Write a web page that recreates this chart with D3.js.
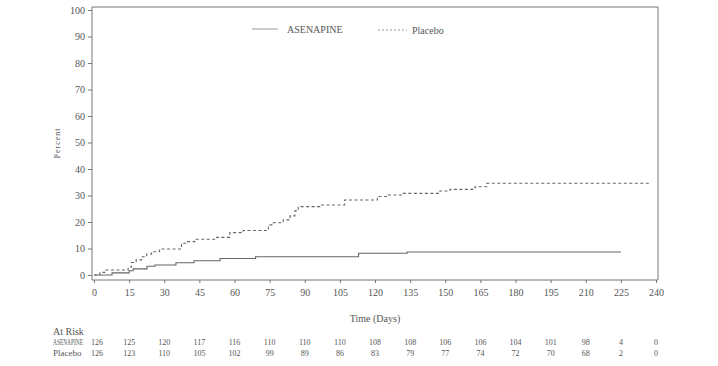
<!DOCTYPE html>
<html>
<head>
<meta charset="utf-8">
<script src="https://cdn.jsdelivr.net/npm/d3@7"></script>
<style>
  body { margin: 0; background: #fff; }
  text { font-family: "Liberation Serif", "DejaVu Serif", serif; fill: #555; }
</style>
</head>
<body>
<div id="chart"></div>
<script>
const width = 718;
const height = 366;

// Kaplan-Meier style cumulative percent
const asenDays = [0, 7.7, 15, 16.7, 22.6, 26, 35, 42.7, 53.8, 69, 113, 133.7, 225];
const asenPct = [0, 0.8, 1.6, 2.3, 3.3, 3.8, 4.6, 5.4, 6.2, 6.9, 8.2, 8.7, 8.7];

const placDays = [0, 2.5, 5, 14.6, 16, 18, 20.3, 22.5, 24.6, 28, 37.4, 39.5, 43, 52.4, 58, 63.7,
  74.5, 76.5, 80.8, 83.7, 85.8, 87.2, 96.5, 107, 121, 125.6, 132, 147.7, 152, 162.7, 167.8, 237.4];
const placPct = [0, 1, 1.9, 3, 4.7, 5.7, 6.9, 7.9, 8.8, 9.8, 12, 12.6, 13.5, 14.2, 16, 16.8,
  18.9, 19.7, 20.8, 22.3, 24.2, 25.8, 26.4, 28.3, 29.6, 30.2, 30.8, 31.7, 32.3, 33.3, 34.6, 34.6];

const xTicks = d3.range(0, 241, 15);
const yTicks = d3.range(0, 101, 10);

const asenRisk = [126, 125, 120, 117, 116, 110, 110, 110, 108, 108, 106, 106, 104, 101, 98, 4, 0];
const placRisk = [126, 123, 110, 105, 102, 99, 89, 86, 83, 79, 77, 74, 72, 70, 68, 2, 0];

const xScale = d3.scaleLinear().domain([0, 240]).range([94, 656]);
const yScale = d3.scaleLinear().domain([0, 100]).range([275, 10]);

const frame = { left: 92, right: 658, top: 7, bottom: 280 };

const svg = d3.select("#chart")
  .append("svg")
  .attr("width", width)
  .attr("height", height);

// frame
svg.append("path")
  .attr("d", `M${frame.left},${frame.bottom}V${frame.top}H${frame.right}V${frame.bottom}`)
  .attr("fill", "none")
  .attr("stroke", "#777")
  .attr("stroke-width", 1);

const xAxis = svg.append("g")
  .attr("transform", `translate(0, ${frame.bottom})`)
  .call(d3.axisBottom(xScale).tickValues(xTicks).tickSize(3).tickPadding(6).tickSizeOuter(0));
xAxis.select(".domain").attr("d", `M${frame.left},0H${frame.right}`).attr("stroke", "#777");
xAxis.selectAll(".tick line").attr("stroke", "#777");
xAxis.selectAll("text").style("font-size", "10px").attr("fill", "#555");

const yAxis = svg.append("g")
  .attr("transform", `translate(${frame.left}, 0)`)
  .call(d3.axisLeft(yScale).tickValues(yTicks).tickSize(4).tickPadding(3));
yAxis.select(".domain").remove();
yAxis.selectAll(".tick line").attr("stroke", "#777");
yAxis.selectAll("text").style("font-size", "10px").attr("fill", "#555");

const line = d3.line()
  .x((d) => xScale(d[0]))
  .y((d) => yScale(d[1]))
  .curve(d3.curveStepAfter);

svg.append("path")
  .datum(asenDays.map((d, i) => [d, asenPct[i]]))
  .attr("d", line)
  .attr("fill", "none")
  .attr("stroke", "#666")
  .attr("stroke-width", 1.1);

svg.append("path")
  .datum(placDays.map((d, i) => [d, placPct[i]]))
  .attr("d", line)
  .attr("fill", "none")
  .attr("stroke", "#666")
  .attr("stroke-width", 1.1)
  .attr("stroke-dasharray", "3,2.5");

// legend
const legend = svg.append("g");
legend.append("line")
  .attr("x1", 252).attr("x2", 278).attr("y1", 29).attr("y2", 29)
  .attr("stroke", "#999").attr("stroke-width", 1);
legend.append("text")
  .attr("x", 287).attr("y", 33)
  .style("font-size", "10px")
  .text("ASENAPINE");
legend.append("line")
  .attr("x1", 378).attr("x2", 407).attr("y1", 30).attr("y2", 30)
  .attr("stroke", "#999").attr("stroke-width", 1)
  .attr("stroke-dasharray", "2,2");
legend.append("text")
  .attr("x", 412).attr("y", 34)
  .style("font-size", "10px")
  .text("Placebo");

// axis titles
svg.append("text")
  .attr("transform", "rotate(-90)")
  .attr("x", -143)
  .attr("y", 60)
  .attr("text-anchor", "middle")
  .style("font-size", "8px")
  .style("letter-spacing", "1px")
  .text("Percent");

svg.append("text")
  .attr("x", 375)
  .attr("y", 322)
  .attr("text-anchor", "middle")
  .style("font-size", "10px")
  .text("Time (Days)");

// at-risk table
svg.append("text").attr("x", 53).attr("y", 335).style("font-size", "10px").text("At Risk");
svg.append("text")
  .attr("transform", "translate(53, 345) scale(0.6, 1)")
  .style("font-size", "9px")
  .text("ASENAPINE");
svg.append("text").attr("x", 53).attr("y", 356).style("font-size", "9px").text("Placebo");

svg.append("g")
  .selectAll("text")
  .data(asenRisk)
  .join("text")
  .attr("x", (d, i) => xScale(xTicks[i]) + (i === 0 ? 3 : 0))
  .attr("y", 345)
  .attr("text-anchor", "middle")
  .style("font-size", "8px")
  .text((d) => d);

svg.append("g")
  .selectAll("text")
  .data(placRisk)
  .join("text")
  .attr("x", (d, i) => xScale(xTicks[i]) + (i === 0 ? 3 : 0))
  .attr("y", 356)
  .attr("text-anchor", "middle")
  .style("font-size", "8px")
  .text((d) => d);
</script>
</body>
</html>
